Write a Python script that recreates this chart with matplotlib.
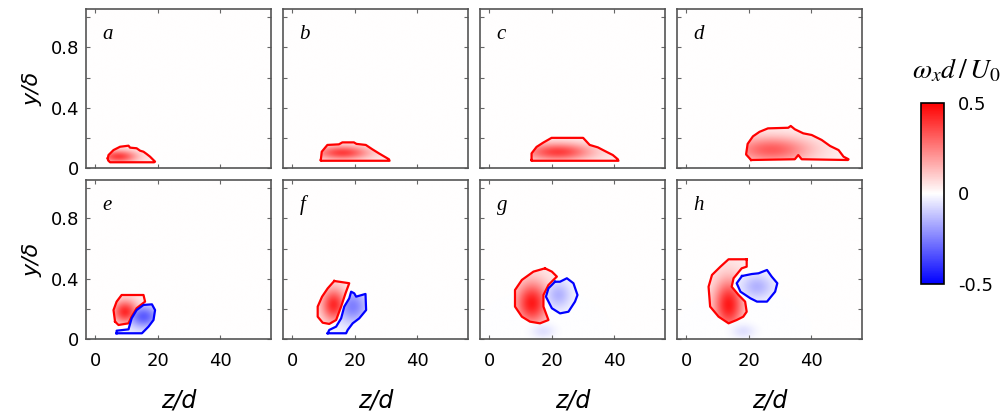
import numpy as np
import matplotlib.pyplot as plt
from matplotlib.path import Path
from matplotlib.cm import ScalarMappable
from matplotlib.colors import Normalize

plt.rcParams['font.family'] = 'DejaVu Sans'
plt.rcParams['mathtext.fontset'] = 'stix'

# ---- data: contour outlines (z/d, y/delta) ----
panel_letters = ['a', 'b', 'c', 'd', 'e', 'f', 'g', 'h']

a_pos_z = [4.06, 4.3, 5.9, 8.0, 10.7, 11.2, 13.3, 14.4, 15.5, 16.5, 17.6, 19.2, 18.9, 4.8, 4.2]
a_pos_y = [0.064, 0.086, 0.119, 0.141, 0.148, 0.135, 0.131, 0.115, 0.108, 0.093, 0.075, 0.042, 0.038, 0.038, 0.05]
a_pos_peak = (7.5, 0.075, 0.38)

b_pos_z = [9.2, 9.5, 11.3, 15.0, 16.1, 19.8, 20.6, 23.6, 25.7, 27.8, 31.0, 31.2, 9.2]
b_pos_y = [0.053, 0.108, 0.153, 0.157, 0.17, 0.17, 0.16, 0.153, 0.124, 0.097, 0.058, 0.048, 0.048]
b_pos_peak = (16.1, 0.10, 0.38)

c_pos_z = [13.6, 13.6, 15.2, 17.3, 20.0, 30.1, 32.2, 34.8, 37.5, 39.6, 41.2, 41.4, 13.6]
c_pos_y = [0.053, 0.097, 0.14, 0.168, 0.2, 0.2, 0.153, 0.137, 0.108, 0.086, 0.058, 0.048, 0.048]
c_pos_peak = (22.0, 0.105, 0.38)

d_pos_z = [20.8, 19.2, 19.7, 21.4, 23.5, 26.2, 32.7, 33.5, 34.8, 37.5, 40.2, 43.4, 46.1, 48.8, 50.4, 52.0, 51.8, 37.0, 35.9, 34.8]
d_pos_y = [0.053, 0.09, 0.16, 0.21, 0.24, 0.263, 0.267, 0.279, 0.257, 0.23, 0.219, 0.186, 0.146, 0.119, 0.075, 0.058, 0.053, 0.058, 0.086, 0.058]
d_pos_peak = (27.3, 0.12, 0.32)

e_pos_z = [6.4, 5.9, 6.9, 8.5, 15.5, 16.0, 13.3, 11.7, 10.7, 7.5]
e_pos_y = [0.115, 0.192, 0.248, 0.292, 0.292, 0.248, 0.204, 0.148, 0.104, 0.093]
e_pos_peak = (9.6, 0.18, 0.42)
e_neg_z = [6.9, 6.9, 10.7, 11.7, 13.3, 15.5, 18.2, 19.2, 18.7, 17.1, 15.0]
e_neg_y = [0.038, 0.055, 0.064, 0.137, 0.192, 0.226, 0.23, 0.192, 0.126, 0.082, 0.038]
e_neg_peak = (15.5, 0.148, -0.32)

f_pos_z = [13.5, 11.4, 9.6, 8.2, 8.2, 9.8, 11.9, 14.1, 15.7, 17.1, 18.3]
f_pos_y = [0.385, 0.336, 0.281, 0.215, 0.148, 0.108, 0.1, 0.126, 0.215, 0.303, 0.37]
f_pos_peak = (13.3, 0.226, 0.42)
f_neg_z = [11.4, 11.9, 14.1, 15.7, 16.7, 18.3, 18.9, 19.9, 20.5, 23.5, 23.7, 21.5, 19.4, 17.8, 17.3]
f_neg_y = [0.038, 0.06, 0.082, 0.137, 0.215, 0.27, 0.314, 0.303, 0.281, 0.299, 0.192, 0.137, 0.104, 0.06, 0.038]
f_neg_peak = (19.4, 0.215, -0.25)

g_pos_z = [17.9, 20.1, 21.7, 20.6, 19.0, 17.4, 17.4, 19.0, 16.3, 13.1, 10.5, 8.3, 8.3, 10.5, 14.2]
g_pos_y = [0.469, 0.447, 0.414, 0.392, 0.358, 0.292, 0.215, 0.126, 0.104, 0.115, 0.148, 0.215, 0.325, 0.392, 0.447]
g_pos_peak = (13.7, 0.237, 0.45)
g_neg_z = [21.1, 19.0, 18.2, 20.1, 22.7, 25.4, 27.5, 28.3, 27.0, 24.9, 22.7]
g_neg_y = [0.38, 0.336, 0.281, 0.204, 0.17, 0.181, 0.248, 0.292, 0.37, 0.403, 0.38]
g_neg_peak = (22.2, 0.292, -0.15)
g_spot = (17.3, 0.05, -0.06)

h_pos_z = [19.4, 19.4, 17.8, 15.2, 14.6, 16.8, 18.9, 19.4, 18.3, 16.2, 13.6, 10.4, 7.7, 7.2, 8.3, 11.0, 13.6]
h_pos_y = [0.529, 0.48, 0.469, 0.403, 0.347, 0.292, 0.248, 0.181, 0.148, 0.126, 0.104, 0.148, 0.215, 0.347, 0.425, 0.48, 0.529]
h_pos_peak = (13.6, 0.226, 0.45)
h_neg_z = [17.9, 16.2, 17.4, 20.6, 22.7, 25.9, 28.5, 29.2, 27.4, 25.9, 23.2, 21.0]
h_neg_y = [0.418, 0.37, 0.314, 0.27, 0.248, 0.248, 0.314, 0.37, 0.414, 0.458, 0.436, 0.431]
h_neg_peak = (22.7, 0.347, -0.15)
h_spot = (18.3, 0.05, -0.06)

x_ticks = [0, 20, 40]
y_ticks = [0, 0.2, 0.4, 0.6, 0.8, 1.0]
y_ticklabels = ['0', '', '0.4', '', '0.8', '']
cbar_ticks = [-0.5, 0, 0.5]
cbar_ticklabels = ['-0.5', '0', '0.5']

panels = [
    [(a_pos_z, a_pos_y, a_pos_peak)],
    [(b_pos_z, b_pos_y, b_pos_peak)],
    [(c_pos_z, c_pos_y, c_pos_peak)],
    [(d_pos_z, d_pos_y, d_pos_peak)],
    [(e_pos_z, e_pos_y, e_pos_peak), (e_neg_z, e_neg_y, e_neg_peak)],
    [(f_pos_z, f_pos_y, f_pos_peak), (f_neg_z, f_neg_y, f_neg_peak)],
    [(g_pos_z, g_pos_y, g_pos_peak), (g_neg_z, g_neg_y, g_neg_peak)],
    [(h_pos_z, h_pos_y, h_pos_peak), (h_neg_z, h_neg_y, h_neg_peak)],
]
spots = {6: [g_spot], 7: [h_spot]}

# ---- figure ----
W, H = 1008, 413
fig = plt.figure(figsize=(W / 100, H / 100), dpi=100)
xlim = (-2.9, 56.3)
ylim = (0, 1.055)
yscale = 48.0  # y/delta units -> z/d units in screen distance
norm = Normalize(-0.5, 0.5)
cmap = plt.get_cmap('bwr')

zz, yy = np.meshgrid(np.linspace(xlim[0], xlim[1], 600), np.linspace(ylim[0], ylim[1], 320))
pts = np.column_stack([zz.ravel(), yy.ravel()])

lefts = [86, 283, 480, 677]
tops = [9, 180]
pw, ph = 185, 159

for i, vorts in enumerate(panels):
    r, c = divmod(i, 4)
    ax = fig.add_axes([lefts[c] / W, 1 - (tops[r] + ph) / H, pw / W, ph / H])
    field = np.zeros_like(zz)
    for vz, vy, (pz, py, amp) in vorts:
        vz = np.asarray(vz); vy = np.asarray(vy)
        inside = Path(np.column_stack([vz, vy])).contains_points(pts).reshape(zz.shape)
        sz = 0.27 * (vz.max() - vz.min())
        sy = 0.27 * (vy.max() - vy.min()) * yscale
        g = np.exp(-((zz - pz) ** 2 / (2 * sz ** 2) + ((yy - py) * yscale) ** 2 / (2 * sy ** 2)))
        field = np.where(inside, amp * (0.08 + 0.92 * g), field)
    for pz, py, amp in spots.get(i, []):
        field += amp * np.exp(-((zz - pz) ** 2 / (2 * 2.6 ** 2) + ((yy - py) * yscale) ** 2 / (2 * 1.6 ** 2)))
    ax.imshow(field, extent=[*xlim, *ylim], origin='lower', cmap=cmap, norm=norm,
              aspect='auto', interpolation='bilinear')
    for vz, vy, (pz, py, amp) in vorts:
        ax.plot(list(vz) + [vz[0]], list(vy) + [vy[0]],
                color='red' if amp > 0 else 'blue', lw=1.6)
    ax.set_xlim(*xlim)
    ax.set_ylim(*ylim)
    ax.set_xticks(x_ticks)
    ax.set_yticks(y_ticks)
    ax.set_yticklabels(y_ticklabels)
    ax.tick_params(direction='in', length=3, width=0.8, color='#666666',
                   top=True, right=True, labelsize=13, pad=5)
    ax.tick_params(axis='x', pad=9)
    for s in ax.spines.values():
        s.set_color('#555555')
        s.set_linewidth(1.2)
    if r == 0:
        ax.tick_params(labelbottom=False)
    else:
        ax.set_xlabel('z/d', fontsize=17, style='italic', labelpad=14)
    if c == 0:
        ax.set_ylabel('y/δ', fontsize=16, style='italic', labelpad=6)
    else:
        ax.tick_params(labelleft=False)
    ax.text(0.09, 0.84, panel_letters[i], transform=ax.transAxes, fontsize=15,
            family='Liberation Serif', style='italic', ha='left', va='center')

# colorbar
cax = fig.add_axes([921 / W, 1 - 284 / H, 23 / W, 181 / H])
cb = fig.colorbar(ScalarMappable(norm=norm, cmap=cmap), cax=cax, ticks=cbar_ticks)
cb.ax.set_yticklabels(cbar_ticklabels)
cb.ax.tick_params(length=0, labelsize=13, pad=10)
cb.outline.set_linewidth(1.2)
fig.text(956 / W, 1 - 70 / H, r'$\omega_x d\,/\,U_0$', ha='center', va='center', fontsize=20)

fig.savefig('out.png', dpi=100)
